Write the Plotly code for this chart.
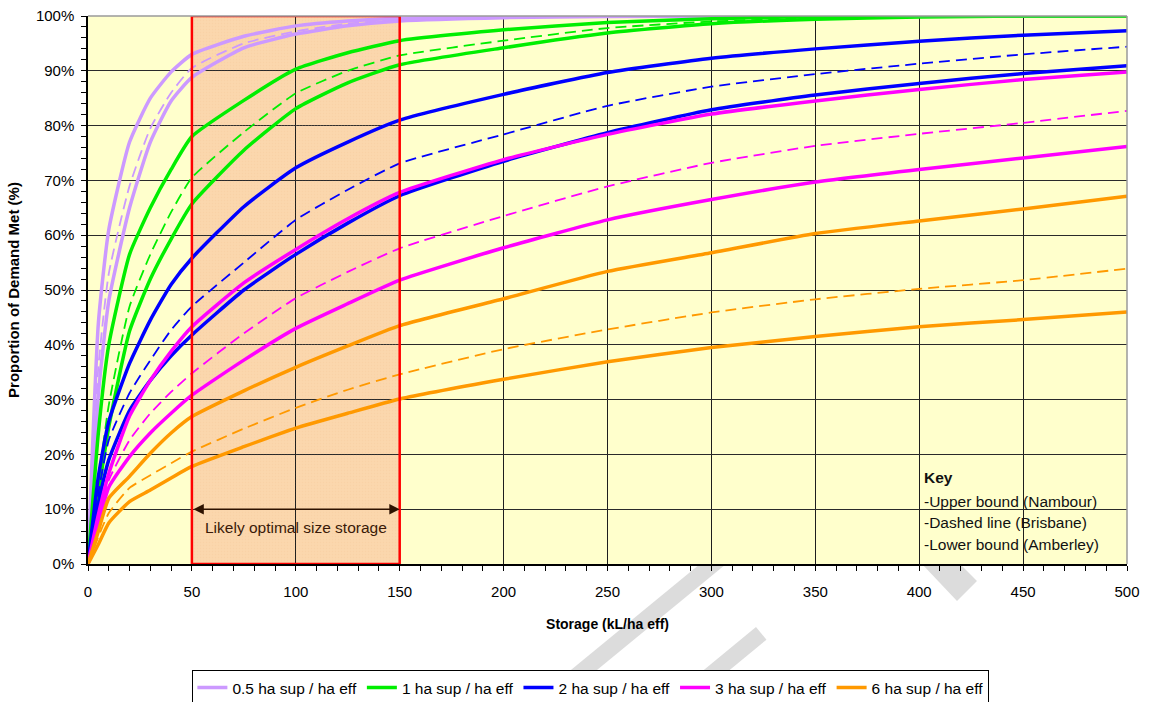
import plotly.graph_objects as go

# Storage size (kL/ha eff) at which demand coverage was evaluated
storage = [0, 5, 10, 20, 30, 40, 50, 75, 100, 125, 150, 200, 250, 300, 350, 400, 450, 500]

# Proportion of demand met (%) - upper bound (Nambour), dashed (Brisbane), lower bound (Amberley)
sup05_upper = [0, 44, 61, 77, 85, 89.8, 93, 96.3, 98.2, 99.1, 99.6, 99.9, 100, 100, 100, 100, 100, 100]
sup05_mid = [0, 36, 53, 69, 79.5, 86, 90.5, 95, 97.2, 98.6, 99.3, 99.8, 100, 100, 100, 100, 100, 100]
sup05_lower = [0, 31, 48, 65, 77, 84.5, 88.8, 94.2, 96.7, 98.2, 99.1, 99.7, 99.9, 100, 100, 100, 100, 100]

sup1_upper = [0, 24, 40, 56.5, 65, 72, 78, 84.6, 90.3, 93.3, 95.5, 97.5, 98.8, 99.5, 99.9, 100, 100, 100]
sup1_mid = [0, 15, 29, 47, 56.5, 64.2, 70.5, 78.8, 85.9, 90, 92.8, 95.5, 97.8, 99.0, 99.6, 99.9, 100, 100]
sup1_lower = [0, 13, 25, 42.5, 52, 59.3, 65.7, 75.5, 83.1, 87.8, 91.1, 94.2, 96.9, 98.6, 99.4, 99.8, 100, 100]

sup2_upper = [0, 16, 26, 36.6, 44.5, 51, 55.8, 65.2, 72.3, 77, 81, 85.7, 89.7, 92.3, 94, 95.4, 96.5, 97.3]
sup2_mid = [0, 13, 22.6, 31.2, 37.2, 42.7, 47, 55, 62.8, 68.3, 73.1, 78.4, 83.6, 87.1, 89.4, 91.3, 93.0, 94.4]
sup2_lower = [0, 11, 19, 28, 33.5, 38, 41.8, 50, 56.5, 62.2, 67.2, 73.5, 78.7, 82.9, 85.6, 87.7, 89.5, 90.9]

sup3_upper = [0, 9, 16.5, 27, 33.5, 38.8, 43.3, 51.3, 57.4, 63, 67.8, 73.8, 78.4, 82.1, 84.5, 86.6, 88.4, 89.8]
sup3_mid = [0, 8, 15.3, 22.6, 27.5, 31.4, 34.8, 42.1, 48.5, 53.3, 57.6, 63.5, 68.9, 73.2, 76.3, 78.5, 80.5, 82.7]
sup3_lower = [0, 7.5, 14, 19.6, 23.9, 27.5, 30.8, 37.2, 43, 47.5, 51.8, 57.7, 62.8, 66.5, 69.7, 72, 74.1, 76.2]

sup6_upper = [0, 6, 12, 16, 20.2, 23.9, 26.9, 31.6, 35.9, 39.8, 43.5, 48.4, 53.4, 56.8, 60.3, 62.6, 64.8, 67.1]
sup6_mid = [0, 5, 9.3, 13.9, 16.2, 18.4, 20.5, 24.7, 28.5, 31.8, 34.6, 39.2, 42.8, 45.9, 48.3, 50.2, 51.8, 53.9]
sup6_lower = [0, 3.6, 7.5, 11.4, 13.5, 15.7, 17.8, 21.4, 24.8, 27.5, 30.1, 33.7, 36.9, 39.5, 41.5, 43.3, 44.6, 46]

series_names = ["0.5 ha sup / ha eff", "1 ha sup / ha eff", "2 ha sup / ha eff",
                "3 ha sup / ha eff", "6 ha sup / ha eff"]
series_colors = ["#CC99FF", "#00EE00", "#0000FF", "#FF00FF", "#FF9900"]
series_data = [
    (sup05_upper, sup05_mid, sup05_lower),
    (sup1_upper, sup1_mid, sup1_lower),
    (sup2_upper, sup2_mid, sup2_lower),
    (sup3_upper, sup3_mid, sup3_lower),
    (sup6_upper, sup6_mid, sup6_lower),
]

# Recommended storage band and key text
optimal_range = [50, 150]
optimal_label = "Likely optimal size storage"
key_lines = ["<b>Key</b>", "-Upper bound (Nambour)", "-Dashed line (Brisbane)", "-Lower bound (Amberley)"]

FONT = "Liberation Sans, Arial, sans-serif"
SMOOTH = 0.5

fig = go.Figure()

# dotted texture over the optimal storage band
fig.add_trace(go.Scatter(
    x=[optimal_range[0], optimal_range[1], optimal_range[1], optimal_range[0], optimal_range[0]],
    y=[0, 0, 100, 100, 0],
    mode="lines", line=dict(width=0), fill="toself", fillcolor="rgba(0,0,0,0)",
    fillpattern=dict(shape=".", size=3, solidity=0.2, fgcolor="rgba(240,190,140,0.45)",
                     bgcolor="rgba(0,0,0,0)"),
    hoverinfo="skip", showlegend=False,
))

# draw lower bounds and dashed lines first so the upper bounds sit on top
for name, color, (upper, mid, lower) in zip(series_names, series_colors, series_data):
    fig.add_trace(go.Scatter(x=storage, y=lower, mode="lines", legendgroup=name, showlegend=False,
                             line=dict(color=color, width=3.5, shape="spline", smoothing=SMOOTH)))
    fig.add_trace(go.Scatter(x=storage, y=mid, mode="lines", legendgroup=name, showlegend=False,
                             line=dict(color=color, width=1.8, dash="11px,6px",
                                       shape="spline", smoothing=SMOOTH)))
for name, color, (upper, mid, lower) in zip(series_names, series_colors, series_data):
    fig.add_trace(go.Scatter(x=storage, y=upper, mode="lines", name=name, legendgroup=name,
                             line=dict(color=color, width=3.5, shape="spline", smoothing=SMOOTH)))

shapes = [
    # peach fill behind the gridlines
    dict(type="rect", xref="x", yref="y", x0=optimal_range[0], x1=optimal_range[1], y0=0, y1=100,
         fillcolor="#FBD7AD", line=dict(width=0), layer="below"),
    # red outline on top of the curves
    dict(type="rect", xref="x", yref="y", x0=optimal_range[0], x1=optimal_range[1], y0=0, y1=100,
         fillcolor="rgba(0,0,0,0)", line=dict(color="#FF0000", width=2.5), layer="above"),
    # grey top and right frame of the plot area
    dict(type="line", xref="paper", yref="paper", x0=0, x1=1, y0=1, y1=1,
         line=dict(color="#9A9A9A", width=1.5), layer="above"),
    dict(type="line", xref="paper", yref="paper", x0=1, x1=1, y0=0, y1=1,
         line=dict(color="#9A9A9A", width=1.5), layer="above"),
]

# faint diagonal watermark strokes below the plot area (pixel positions -> paper units)
def px_path(points):
    def cx(px):
        return (px - 88) / 1039
    def cy(py):
        return (564 - py) / 548
    parts = [f"{'M' if i == 0 else 'L'} {cx(x):.4f},{cy(y):.4f}" for i, (x, y) in enumerate(points)]
    return " ".join(parts) + " Z"

for pts in [
    [(922, 564), (960, 564), (977, 581), (957, 601)],
    [(700, 564), (726, 564), (558, 702), (532, 702)],
    [(756, 627), (766.5, 639.7), (690.8, 702), (665, 702)],
]:
    shapes.append(dict(type="path", xref="paper", yref="paper", path=px_path(pts),
                       fillcolor="#DCDCDC", line=dict(width=0), layer="below"))

annotations = [
    # double-headed arrow spanning the optimal band
    dict(x=optimal_range[1], y=10, ax=optimal_range[0], ay=10, xref="x", yref="y",
         axref="x", ayref="y", text="", showarrow=True, arrowside="end+start",
         arrowhead=2, startarrowhead=2, arrowsize=1.3, startarrowsize=1.3,
         arrowwidth=1.6, arrowcolor="#2E1200"),
    dict(x=sum(optimal_range) / 2, y=6.6, xref="x", yref="y", text=optimal_label,
         showarrow=False, font=dict(family=FONT, size=15.5, color="#3A1A08")),
]
key_y = [15.7, 11.4, 7.5, 3.5]
for txt, yy in zip(key_lines, key_y):
    annotations.append(dict(x=401.5, y=yy, xref="x", yref="y", text=txt, showarrow=False,
                            xanchor="left", yanchor="middle",
                            font=dict(family=FONT, size=15.5, color="#111111")))

fig.update_layout(
    width=1152, height=702,
    margin=dict(l=88, r=25, t=16, b=138, autoexpand=False),
    paper_bgcolor="white",
    plot_bgcolor="#FFFFCC",
    font=dict(family=FONT, size=15, color="black"),
    shapes=shapes,
    annotations=annotations,
    legend=dict(orientation="h", x=0.484, xanchor="center", y=-0.2263, yanchor="middle",
                bgcolor="white", bordercolor="black", borderwidth=1,
                font=dict(family=FONT, size=15.5, color="black"),
                itemwidth=30, tracegroupgap=0),
    showlegend=True,
)

fig.update_xaxes(
    range=[0, 500], dtick=50, tick0=0,
    showgrid=True, gridcolor="#1E1E1E", gridwidth=1,
    showline=True, linecolor="black", linewidth=1.5,
    ticks="outside", ticklen=5, tickcolor="black", ticklabelstandoff=8,
    minor=dict(dtick=10, ticks="outside", ticklen=5, tickcolor="black", showgrid=False),
    zeroline=False,
    tickfont=dict(family=FONT, size=15),
    title=dict(text="<b>Storage (kL/ha eff)</b>", font=dict(family=FONT, size=14), standoff=20),
)
fig.update_yaxes(
    range=[0, 100], dtick=10, tick0=0, ticksuffix="%",
    showgrid=True, gridcolor="#2A2A2A", gridwidth=1,
    showline=True, linecolor="black", linewidth=1.5,
    ticks="outside", ticklen=5, tickcolor="black", ticklabelstandoff=4,
    minor=dict(dtick=2, ticks="outside", ticklen=5, tickcolor="black", showgrid=False),
    zeroline=False,
    tickfont=dict(family=FONT, size=15),
    title=dict(text="<b>Proportion of Demand Met (%)</b>", font=dict(family=FONT, size=15), standoff=13),
)

fig.write_html("out.html")
